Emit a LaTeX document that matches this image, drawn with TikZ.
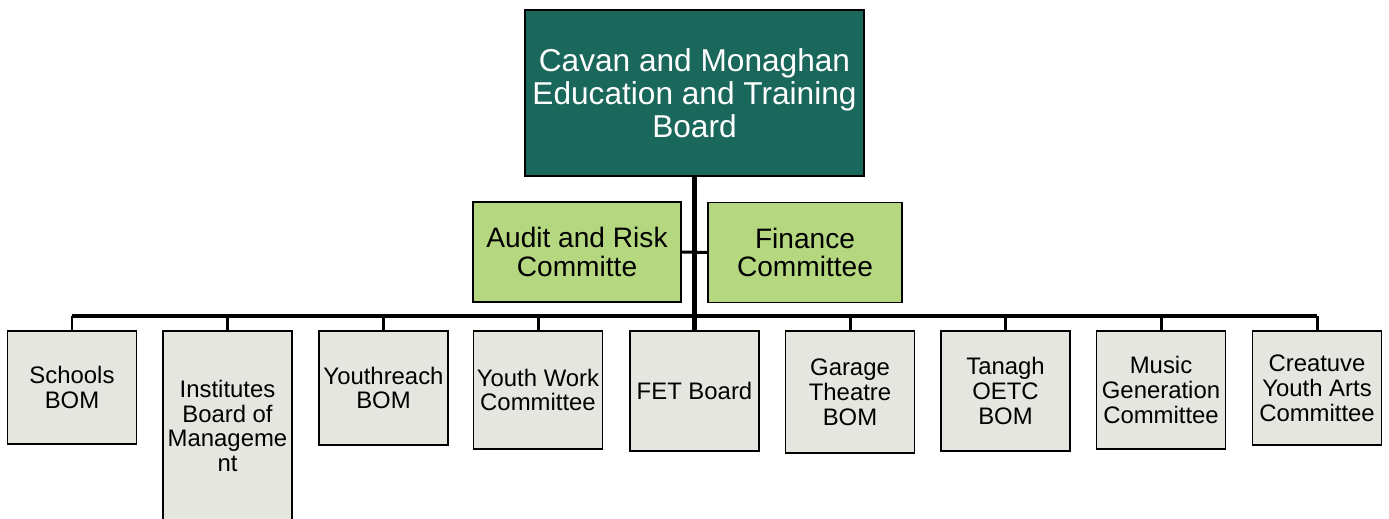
\documentclass[tikz,border=0pt]{standalone}
\usepackage{fontspec}
\setmainfont{Liberation Sans}
\definecolor{boardteal}{RGB}{26,104,92}
\definecolor{cttegreen}{RGB}{181,215,127}
\definecolor{unitgrey}{RGB}{230,230,224}
\begin{document}
\begin{tikzpicture}[x=0.02cm,y=-0.02cm,-]
    \tikzstyle{board}=[rectangle,draw=black,line width=1.1pt,fill=boardteal,text=white,align=center,minimum width=6.78cm,minimum height=3.32cm,inner sep=1pt,font=\fontsize{18}{18.7}\selectfont]
    \tikzstyle{ctte}=[rectangle,draw=black,line width=1.1pt,fill=cttegreen,align=center,minimum height=2cm,inner sep=1pt,font=\fontsize{16}{16}\selectfont]
    \tikzstyle{unit}=[rectangle,draw=black,line width=1.1pt,fill=unitgrey,align=center,anchor=north,minimum width=2.58cm,inner sep=1pt,font=\fontsize{13.6}{14.2}\selectfont]
    \tikzstyle{busline}=[line width=2.3pt]
    \tikzstyle{drop}=[line width=1.7pt]
    \useasboundingbox (0,0) rectangle (1389,518);

    \node[board] (top) at (694.5,93) {Cavan and Monaghan\\Education and Training\\Board};
    \node[ctte,minimum width=4.16cm] (audit) at (577,252) {Audit and Risk\\Committe};
    \node[ctte,minimum width=3.88cm] (finance) at (805,252.5) {Finance\\Committee};

    \foreach \num/\x/\h/\txt in {1/72/2.26/{Schools\\BOM}, 2/227.5/3.8/{Institutes\\Board of\\Manageme\\nt},
                                3/383.5/2.28/{Youthreach\\BOM}, 4/538/2.36/{Youth Work\\Committee},
                                5/694.5/2.4/{FET Board}, 6/850/2.44/{Garage\\Theatre\\BOM},
                                7/1005.5/2.4/{Tanagh\\OETC\\BOM}, 8/1161/2.36/{Music\\Generation\\Committee},
                                9/1317/2.28/{Creatuve\\Youth Arts\\Committee}}
            \node[unit,minimum height=\h cm] (B-\num) at (\x,330) {\txt};

    \coordinate (bus) at (694.5,316);
    \draw[busline] (top) -- (B-5);
    \draw[busline] (B-1.north |- bus) -- (B-9.north |- bus);
    \foreach \num in {1,2,3,4,6,7,8,9}
            \draw[drop] (B-\num.north) -- (B-\num.north |- bus);
    \draw[drop] (audit.east) -- (finance.west);
\end{tikzpicture}
\end{document}
